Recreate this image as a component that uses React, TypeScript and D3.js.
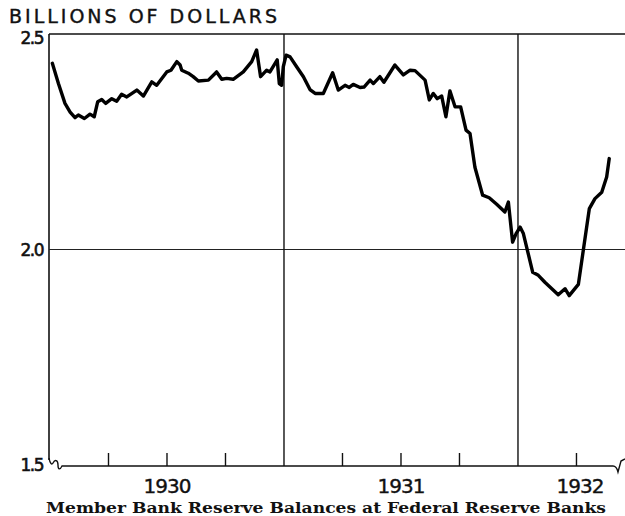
import React from "react";
import * as d3 from "d3";

// time as decimal year, values in billions of dollars
const years = [
  1930.010, 1930.036, 1930.064, 1930.086, 1930.107, 1930.121, 1930.147, 1930.171, 1930.189, 1930.204,
  1930.221, 1930.238, 1930.264, 1930.285, 1930.306, 1930.328, 1930.371, 1930.399, 1930.435, 1930.456,
  1930.499, 1930.517, 1930.542, 1930.556, 1930.563, 1930.591, 1930.612, 1930.634, 1930.677, 1930.712,
  1930.734, 1930.755, 1930.783, 1930.826, 1930.862, 1930.883, 1930.900, 1930.926, 1930.940, 1930.971,
  1930.980, 1930.990, 1930.997, 1931.009, 1931.026, 1931.054, 1931.083, 1931.111, 1931.133, 1931.168,
  1931.208, 1931.232, 1931.261, 1931.279, 1931.296, 1931.325, 1931.342, 1931.368, 1931.382, 1931.410,
  1931.427, 1931.474, 1931.510, 1931.539, 1931.560, 1931.603, 1931.621, 1931.638, 1931.655, 1931.674,
  1931.692, 1931.709, 1931.731, 1931.755, 1931.778, 1931.795, 1931.816, 1931.849, 1931.877, 1931.909,
  1931.944, 1931.959, 1931.977, 1931.992, 1932.009, 1932.023, 1932.063, 1932.087, 1932.115, 1932.172,
  1932.201, 1932.219, 1932.258, 1932.305, 1932.329, 1932.358, 1932.379, 1932.390,
];
const reserves = [
  2.432, 2.385, 2.339, 2.319, 2.306, 2.312, 2.304, 2.314, 2.308, 2.343,
  2.348, 2.339, 2.350, 2.344, 2.360, 2.354, 2.370, 2.356, 2.389, 2.381,
  2.412, 2.416, 2.436, 2.428, 2.416, 2.409, 2.401, 2.391, 2.393, 2.412,
  2.395, 2.397, 2.395, 2.412, 2.436, 2.463, 2.401, 2.416, 2.412, 2.440,
  2.385, 2.381, 2.424, 2.451, 2.447, 2.424, 2.401, 2.371, 2.362, 2.362,
  2.410, 2.370, 2.381, 2.376, 2.383, 2.376, 2.377, 2.393, 2.385, 2.401,
  2.388, 2.428, 2.405, 2.416, 2.415, 2.393, 2.347, 2.362, 2.350, 2.356,
  2.308, 2.368, 2.331, 2.331, 2.277, 2.269, 2.191, 2.126, 2.120, 2.105,
  2.087, 2.110, 2.017, 2.037, 2.052, 2.037, 1.947, 1.940, 1.924, 1.895,
  1.909, 1.893, 1.919, 2.095, 2.118, 2.133, 2.168, 2.211,
];

const yTicks = [1.5, 2.0, 2.5];
const yearBounds = [1931, 1932];
const quarterTicks = [1930.25, 1930.5, 1930.75, 1931.25, 1931.5, 1931.75, 1932.25];
const yearLabels = [
  { label: "1930", at: 1930.5 },
  { label: "1931", at: 1931.5 },
  { label: "1932", at: 1932.265 },
];

export default function App() {
  const W = 625;
  const H = 516;
  const left = 49;
  const top = 34;
  const base = 465;

  const x = d3.scaleLinear().domain([1930, 1932.436]).range([50, 620]);
  const y = d3.scaleLinear().domain([1.5, 2.5]).range([base, top]);

  const pts = years.map((t, i) => [t, reserves[i]] as [number, number]);
  const line = d3
    .line<[number, number]>()
    .x((d) => x(d[0]))
    .y((d) => y(d[1]))
    .curve(d3.curveLinear);

  const axisY = base + 1;
  const sans = "'DejaVu Sans', sans-serif";

  return (
    <svg width={W} height={H} style={{ position: "absolute", left: 0, top: 0, background: "#fff" }}>
      {/* frame: top line and left axis */}
      <line x1={left} x2={W} y1={top} y2={top} stroke="#111" strokeWidth={1.3} />
      <line x1={left} x2={left} y1={top} y2={axisY - 6} stroke="#111" strokeWidth={1.6} />

      {/* 2.0 gridline */}
      <line x1={left} x2={W} y1={y(2.0)} y2={y(2.0)} stroke="#222" strokeWidth={1.1} />

      {/* year boundaries */}
      {yearBounds.map((b) => (
        <line key={b} x1={x(b)} x2={x(b)} y1={top} y2={axisY} stroke="#111" strokeWidth={1.4} />
      ))}

      {/* bottom axis with breaks */}
      <path
        d={`M${left},${axisY - 8} C${left + 1},${axisY - 2} ${left + 3},${axisY - 1} ${left + 4},${axisY - 3}
            C${left + 6},${axisY - 7} ${left + 9},${axisY - 6} ${left + 9},${axisY - 1}
            C${left + 9},${axisY + 4} ${left + 11},${axisY + 4} ${left + 13},${axisY} L${W - 12},${axisY}
            C${W - 9},${axisY} ${W - 8},${axisY + 2} ${W - 7},${axisY + 6} L${W - 4},${axisY - 5} L${W},${axisY - 7}`}
        fill="none"
        stroke="#111"
        strokeWidth={1.4}
      />
      {quarterTicks.map((q) => (
        <line key={q} x1={x(q)} x2={x(q)} y1={axisY} y2={axisY - 13} stroke="#111" strokeWidth={1.4} />
      ))}

      {/* y labels */}
      {yTicks.map((v) => (
        <text
          key={v}
          x={43}
          y={v === 2.5 ? 44 : y(v) + 6}
          textAnchor="end"
          fontFamily={sans}
          fontSize={17}
          fill="#111"
          stroke="#111"
          strokeWidth={0.6}
          letterSpacing={-1.5}
        >
          {v.toFixed(1)}
        </text>
      ))}

      <text
        x={9}
        y={23}
        fontFamily={sans}
        fontSize={19}
        fill="#111"
        stroke="#111"
        strokeWidth={0.4}
        textLength={268}
        lengthAdjust="spacing"
      >
        BILLIONS OF DOLLARS
      </text>

      {/* year labels */}
      {yearLabels.map((l) => (
        <text
          key={l.label}
          x={x(l.at)}
          y={493}
          textAnchor="middle"
          fontFamily={sans}
          fontSize={20}
          fill="#111"
          stroke="#111"
          strokeWidth={0.4}
          letterSpacing={-1}
        >
          {l.label}
        </text>
      ))}

      {/* data line */}
      <path
        d={line(pts) ?? ""}
        fill="none"
        stroke="#000"
        strokeWidth={3.4}
        strokeLinejoin="round"
        strokeLinecap="round"
      />

      {/* caption */}
      <text
        x={46}
        y={513}
        fontFamily="'DejaVu Serif', serif"
        fontWeight="bold"
        fontSize={15}
        fill="#111"
        textLength={560}
        lengthAdjust="spacingAndGlyphs"
      >
        Member Bank Reserve Balances at Federal Reserve Banks
      </text>
    </svg>
  );
}
